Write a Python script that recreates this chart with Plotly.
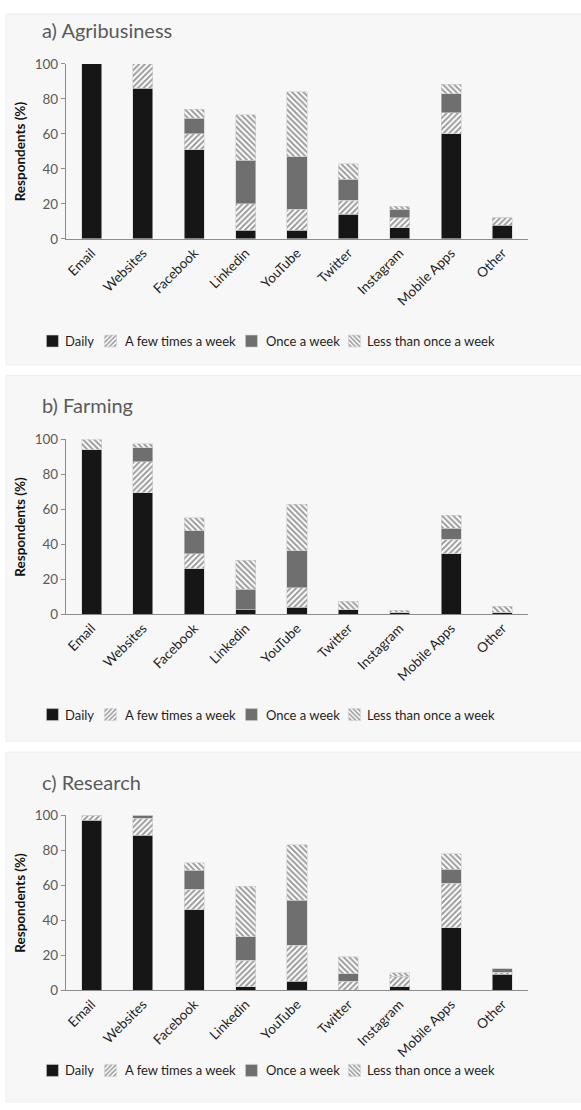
import plotly.graph_objects as go

categories = ["Email", "Websites", "Facebook", "Linkedin", "YouTube", "Twitter", "Instagram", "Mobile Apps", "Other"]
series_names = ["Daily", "A few times a week", "Once a week", "Less than once a week"]
y_ticks = [0, 20, 40, 60, 80, 100]

# a) Agribusiness
agri_daily = [100, 86, 51, 5, 5, 14, 6.5, 60, 7.7]
agri_few = [0, 14, 9, 15, 12, 8, 5.5, 12, 4.5]
agri_once = [0, 0, 9, 25, 30, 12, 5, 11, 0]
agri_less = [0, 0, 5, 26, 37, 9, 1.6, 5.5, 0]

# b) Farming
farm_daily = [94, 69.5, 26, 2.6, 4, 2.4, 1.2, 34.5, 1.2]
farm_few = [0, 17.7, 8.5, 0, 11, 0, 0, 8.3, 0]
farm_once = [0, 8, 13.3, 11.7, 21.3, 0, 0, 6.4, 0]
farm_less = [6, 2.3, 7.5, 16.5, 26.7, 5, 1, 7.5, 3.3]

# c) Research
res_daily = [97, 88.4, 46, 2, 5, 0, 2, 35.6, 9]
res_few = [3, 9.9, 11.8, 15, 20.7, 5, 6, 25.5, 1.3]
res_once = [0, 1.7, 10.7, 13.6, 25.6, 4.3, 0, 8.1, 1.9]
res_less = [0, 0, 4.3, 28.8, 31.9, 9.8, 2, 8.8, 0]

panel_titles = ["a) Agribusiness", "b) Farming", "c) Research"]
panel_data = [
    [agri_daily, agri_few, agri_once, agri_less],
    [farm_daily, farm_few, farm_once, farm_less],
    [res_daily, res_few, res_once, res_less],
]

W, H = 581, 1110
FONT = "Lato"

def py(px):
    return 1 - px / H

# layout geometry (pixels)
boxes = [(6, 362), (373, 744), (755, 1110)]
plot_y = [(56.7, 234.3), (437.7, 615), (819, 996.6)]
title_y = [22, 403, 785]
legend_y = [338, 717, 1078]
x_dom = [65 / W, 528 / W]
legend_widths = [13, 96, 58, 140]
legend_text_x = [62, 122, 263, 365]

hatch = dict(fgcolor="#383838", bgcolor="white", size=4, solidity=0.5)
styles = [
    dict(color="#161616", pattern=None),
    dict(color="white", pattern=dict(shape="/", **hatch)),
    dict(color="#6f6f6f", pattern=None),
    dict(color="white", pattern=dict(shape="\\", **hatch)),
]

fig = go.Figure()
shapes = []
annotations = []
layout_axes = {}

for i in range(3):
    sfx = "" if i == 0 else str(i + 1)
    xa = "x" + sfx
    ya = "y" + sfx
    leg = "legend" + sfx
    for s in range(4):
        st = styles[s]
        marker = dict(color=st["color"], line=dict(color="#d0d0d0", width=0.6))
        if st["pattern"]:
            marker["pattern"] = st["pattern"]
        # legend shows only the swatch; the label is an annotation so that
        # swatch-to-label spacing matches the reference
        fig.add_trace(go.Bar(
            x=categories, y=panel_data[i][s], name="",
            marker=marker, xaxis=xa, yaxis=ya, legend=leg, width=0.39,
            legendwidth=legend_widths[s],
            hovertemplate="%{x}: %{y}%<extra>" + series_names[s] + "</extra>",
        ))
        annotations.append(dict(text=series_names[s], xref="paper", yref="paper",
                                x=legend_text_x[s] / W, y=py(legend_y[i]),
                                xanchor="left", yanchor="middle", showarrow=False,
                                font=dict(family=FONT, size=13, color="#1e1e1e")))
    top, bot = plot_y[i]
    layout_axes["xaxis" + sfx] = dict(
        domain=x_dom, anchor=ya, type="category", range=[-0.5, 8.5],
        showline=True, linecolor="#8c8c8c", linewidth=1, ticks="",
        tickangle=-45, tickfont=dict(family=FONT, size=13.5, color="#1e1e1e"),
        showgrid=False, zeroline=False, fixedrange=True,
    )
    layout_axes["yaxis" + sfx] = dict(
        domain=[py(bot), py(top)], anchor=xa, range=[0, 100], tickvals=y_ticks,
        showline=True, linecolor="#8c8c8c", linewidth=1, ticks="outside",
        ticklen=4, tickcolor="#8c8c8c",
        tickfont=dict(family=FONT, size=13.5, color="#5a5a5a"),
        showgrid=False, zeroline=False, fixedrange=True,
    )
    layout_axes[leg] = dict(
        orientation="h", x=31.5 / W, xanchor="left", y=py(legend_y[i]), yanchor="middle",
        font=dict(family=FONT, size=13, color="#1e1e1e"), bgcolor="rgba(0,0,0,0)",
        itemwidth=30, traceorder="normal", tracegroupgap=0,
    )
    b0, b1 = boxes[i]
    shapes.append(dict(type="rect", xref="paper", yref="paper", x0=5 / W, x1=1.02,
                       y0=py(b1), y1=py(b0), fillcolor="#f7f7f7",
                       line=dict(color="#eeeeee", width=1), layer="below"))
    annotations.append(dict(text=panel_titles[i], xref="paper", yref="paper",
                            x=39 / W, y=py(title_y[i]), xanchor="left", yanchor="middle",
                            showarrow=False, font=dict(family=FONT, size=20, color="#5a5a5a")))
    annotations.append(dict(text="<b>Respondents (%)</b>", xref="paper", yref="paper",
                            x=19 / W, y=py((top + bot) / 2), xanchor="center", yanchor="middle",
                            textangle=-90, showarrow=False,
                            font=dict(family=FONT, size=13.5, color="#111111")))

fig.update_layout(
    width=W, height=H, margin=dict(l=0, r=0, t=0, b=0),
    paper_bgcolor="white", plot_bgcolor="rgba(0,0,0,0)",
    barmode="stack", shapes=shapes, annotations=annotations,
    **layout_axes,
)

fig.write_html("out.html")
